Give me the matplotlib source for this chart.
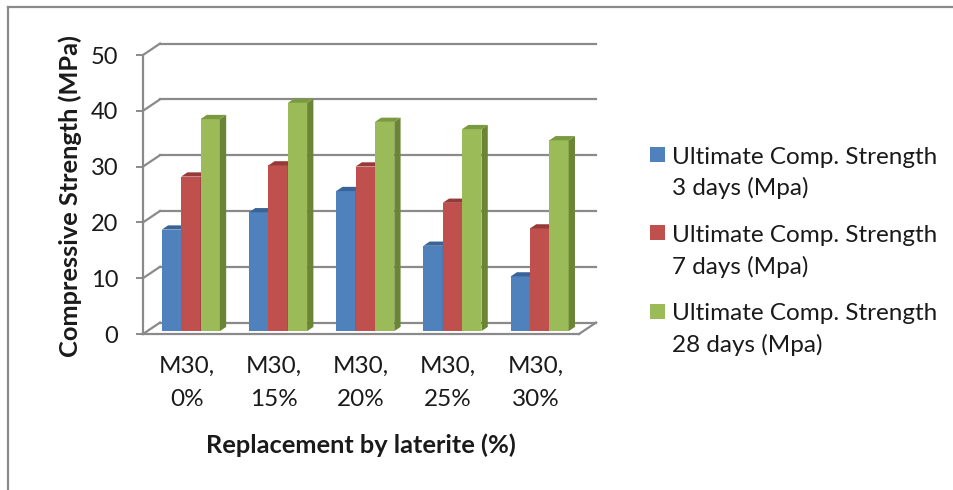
import matplotlib
matplotlib.use("Agg")
import matplotlib.pyplot as plt
from matplotlib.patches import Polygon, Rectangle
from matplotlib.lines import Line2D

# ---- data -------------------------------------------------------------
categories = ["M30,\n0%", "M30,\n15%", "M30,\n20%", "M30,\n25%", "M30,\n30%"]
series_labels = [
    "Ultimate Comp. Strength\n3 days (Mpa)",
    "Ultimate Comp. Strength\n7 days (Mpa)",
    "Ultimate Comp. Strength\n28 days (Mpa)",
]
strength_3d = [18.2, 21.3, 25.1, 15.3, 9.8]
strength_7d = [27.7, 29.7, 29.5, 23.0, 18.4]
strength_28d = [38.0, 40.9, 37.5, 36.2, 34.2]
y_ticks = [0, 10, 20, 30, 40, 50]
x_title = "Replacement by laterite (%)"
y_title = "Compressive Strength (MPa)"

# ---- style ------------------------------------------------------------
FONT = "Lato"
plt.rcParams["font.family"] = [FONT, "DejaVu Sans"]
GRID = "#8a8a8a"
TXT = "#1a1a1a"
FS = 17.5        # regular text
FS_TICK = 17
FS_BOLD = 18.3   # axis titles
# (front, side, top) shades for each series
SHADES = [
    ("#4f81bd", "#385d8a", "#3a6498"),
    ("#c0504d", "#8c3836", "#963a38"),
    ("#9bbb59", "#6a8535", "#799a3f"),
]

W, H = 954, 490
fig = plt.figure(figsize=(W / 100, H / 100), dpi=100)
fig.patch.set_facecolor("white")

# front plane of the 3-D box
ax = fig.add_axes([143 / W, (H - 334) / H, 436 / W, 279 / H])
ax.set_xlim(0, len(categories))
ax.set_ylim(y_ticks[0], y_ticks[-1])
ax.patch.set_visible(False)

# depth offset of the back wall (in data units)
DX, DY = 0.195, 2.05
ncat = len(categories)

# back-wall gridlines and their diagonal continuation on the side wall
for v in y_ticks:
    ax.add_line(Line2D([DX, ncat + DX], [v + DY, v + DY], color=GRID,
                       lw=1.6, clip_on=False, zorder=1))
    ax.add_line(Line2D([0, DX], [v, v + DY], color=GRID, lw=1.6,
                       clip_on=False, zorder=1))
# right edge of the floor
ax.add_line(Line2D([ncat, ncat + DX], [0, DY], color=GRID, lw=1.6,
                   clip_on=False, zorder=1))

# 3-D columns
series = [strength_3d, strength_7d, strength_28d]
bw = 0.222
d0, d1 = 0.25, 0.62
ddx, ddy = (d1 - d0) * DX, (d1 - d0) * DY
base = d0 * DY
for j, (vals, (front, side, top)) in enumerate(zip(series, SHADES)):
    xs = [i + 0.5 - 1.5 * bw + j * bw + d0 * DX for i in range(ncat)]
    ax.bar(xs, vals, width=bw, bottom=base, align="edge", color=front,
           lw=0, zorder=3 + j, clip_on=False, label=series_labels[j])
    for x, v in zip(xs, vals):
        r = x + bw
        t = base + v
        ax.add_patch(Polygon([(r, base), (r + ddx, base + ddy),
                              (r + ddx, t + ddy), (r, t)],
                             closed=True, fc=side, ec="none",
                             zorder=3 + j, clip_on=False))
        ax.add_patch(Polygon([(x, t), (r, t), (r + ddx, t + ddy),
                              (x + ddx, t + ddy)],
                             closed=True, fc=top, ec="none",
                             zorder=3 + j, clip_on=False))

# axes lines, ticks and labels
for s in ("top", "right"):
    ax.spines[s].set_visible(False)
for s in ("left", "bottom"):
    ax.spines[s].set_color(GRID)
    ax.spines[s].set_linewidth(1.6)
    ax.spines[s].set_zorder(2)

ax.set_yticks(y_ticks)
ax.set_yticklabels([str(t) for t in y_ticks])
ax.tick_params(axis="y", length=4.8, width=1.4, color=GRID, pad=13,
               labelsize=FS_TICK, labelcolor=TXT)
ax.set_xticks([i + 0.5 for i in range(ncat)])
ax.set_xticklabels(categories)
ax.tick_params(axis="x", length=0, pad=16, labelsize=FS, labelcolor=TXT)
for lab in ax.get_xticklabels():
    lab.set_linespacing(1.7)

fig.text(361 / W, 1 - 445 / H, x_title, ha="center", va="center",
         fontsize=FS_BOLD, fontweight="bold", color=TXT)
fig.text(70 / W, 1 - 196 / H, y_title, ha="center", va="center",
         rotation=90, fontsize=FS_BOLD, fontweight="bold", color=TXT)

# legend entries
entry_baselines = [163.5, 242, 320.5]
for (front, _, _), lab, yb in zip(SHADES, series_labels, entry_baselines):
    fig.patches.append(Rectangle((650 / W, 1 - (yb - 1.5) / H), 15 / W,
                                 15 / H, transform=fig.transFigure,
                                 fc=front, ec="none"))
    line1, line2 = lab.split("\n")
    fig.text(672 / W, 1 - yb / H, line1, ha="left", va="baseline",
             fontsize=FS, color=TXT)
    fig.text(672 / W, 1 - (yb + 31.7) / H, line2, ha="left", va="baseline",
             fontsize=FS, color=TXT)

# chart border (top and left edges)
fig.add_artist(Line2D([8 / W, 1], [1 - 7 / H, 1 - 7 / H],
                      transform=fig.transFigure, color=GRID, lw=1.6))
fig.add_artist(Line2D([8 / W, 8 / W], [0, 1 - 7 / H],
                      transform=fig.transFigure, color=GRID, lw=1.6))

fig.savefig("out.png", dpi=100, facecolor="white")
